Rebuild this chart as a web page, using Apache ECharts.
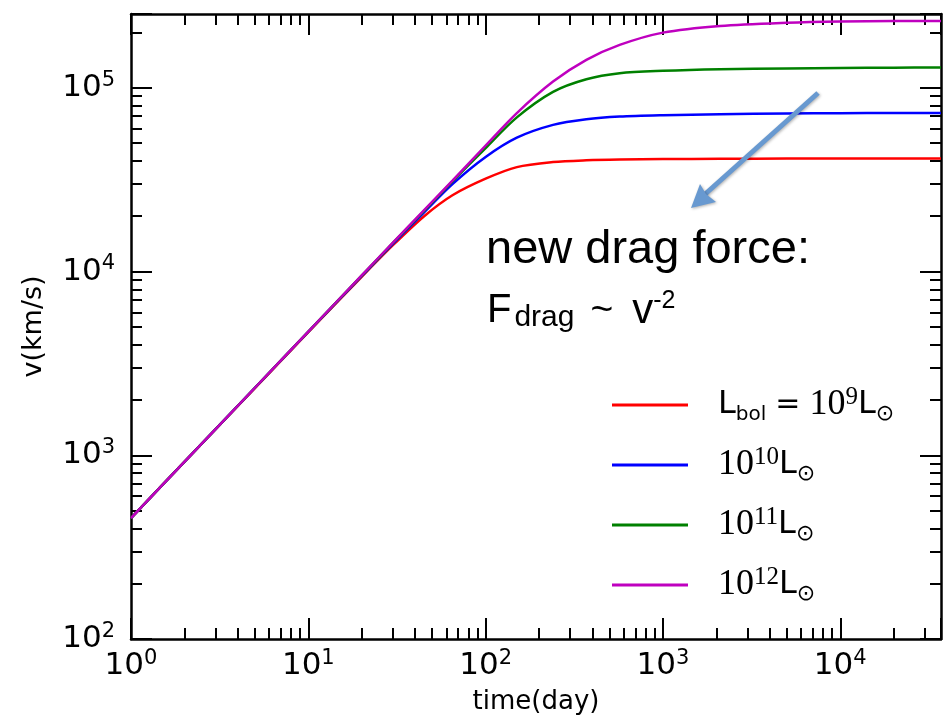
<!DOCTYPE html>
<html>
<head>
<meta charset="utf-8">
<script src="https://cdn.jsdelivr.net/npm/echarts@6/dist/echarts.min.js"></script>
<style>
  html, body { margin: 0; padding: 0; background: #fff; }
  #chart { width: 946px; height: 725px; }
</style>
</head>
<body>
<div id="chart"></div>
<script>
// Time since launch (days)
const TIME = [1, 2, 5, 10, 20, 30, 45, 65, 100, 150, 240, 370, 570, 1000, 2100, 5000, 10000, 20000, 37000];

// Velocity (km/s) for each bolometric luminosity
const V_L9  = [455, 920, 2320, 4680, 9350, 13900, 20000, 26000, 32000, 37000, 39400, 40300, 40700, 40900, 41050, 41150, 41200, 41200, 41200];
const V_L10 = [455, 920, 2330, 4700, 9450, 14150, 21000, 29900, 42000, 53500, 62800, 67400, 69700, 70900, 71800, 72400, 72700, 72800, 72800];
const V_L11 = [455, 920, 2330, 4710, 9500, 14300, 21400, 30900, 47000, 69000, 95000, 111300, 120000, 123600, 126100, 127400, 128200, 128600, 128800];
const V_L12 = [455, 920, 2330, 4710, 9520, 14370, 21600, 31200, 48500, 72800, 108000, 141800, 171000, 199500, 217000, 226000, 229500, 230500, 231000];

const SERIES_NAMES = ['L9', 'L10', 'L11', 'L12'];
const SERIES_VALUES = [V_L9, V_L10, V_L11, V_L12];
const SERIES_COLORS = ['#ff0000', '#0000ff', '#008000', '#bf00bf'];
const LEGEND_TEXT = {
  L9:  '{L|L}{bol|bol}{eq|=}{n|10}{sup|9}{L|L}{sun|\u2299}',
  L10: '{n|10}{sup|10}{L|L}{sun|\u2299}',
  L11: '{n|10}{sup|11}{L|L}{sun|\u2299}',
  L12: '{n|10}{sup|12}{L|L}{sun|\u2299}'
};

const X_MIN = 1, X_MAX = 37000;
const Y_MIN = 100, Y_MAX = 252000;

const SANS = 'DejaVu Sans';
const ARROW_COLOR = '#6899d0';

// Minor tick positions (as exponents): log10 of 2..9 x 10^k inside the range
function minorExponents(lo, hi) {
  const out = [];
  for (let k = Math.floor(Math.log10(lo)); k <= Math.ceil(Math.log10(hi)); k++) {
    for (let m = 2; m <= 9; m++) {
      const v = m * Math.pow(10, k);
      if (v > lo && v < hi) out.push(Math.log10(v));
    }
  }
  return out;
}
const X_MINOR = minorExponents(X_MIN, X_MAX);
const Y_MINOR = minorExponents(Y_MIN, Y_MAX);

function powLabel(v) {
  const e = Math.log10(v);
  const r = Math.round(e);
  if (Math.abs(e - r) > 1e-6) return '';
  return '{b|10}{s|' + r + '}';
}

const tickRich = {
  b: { fontFamily: SANS, fontSize: 31, lineHeight: 36, color: '#000' },
  s: { fontFamily: SANS, fontSize: 21, lineHeight: 11, verticalAlign: 'top', color: '#000' }
};

function logAxis(min, max, position, withLabels, extra) {
  return Object.assign({
    type: 'log', logBase: 10, min: min, max: max, position: position,
    axisLine: { show: true, onZero: false, lineStyle: { color: '#000', width: 2.5 } },
    axisTick: { inside: true, length: 21, lineStyle: { color: '#000', width: 2 } },
    axisLabel: withLabels
      ? { formatter: powLabel, rich: tickRich, margin: 9, hideOverlap: false }
      : { show: false },
    splitLine: { show: false },
    minorTick: { show: false }
  }, extra || {});
}

// Linear axis over the exponent range, carrying only the short minor ticks
function minorAxis(min, max, position, values) {
  return {
    type: 'value', min: Math.log10(min), max: Math.log10(max), position: position, offset: 0,
    axisLine: { show: false, onZero: false },
    axisTick: { show: true, inside: true, length: 11, customValues: values, lineStyle: { color: '#000', width: 2 } },
    axisLabel: { show: false },
    splitLine: { show: false }
  };
}

const chart = echarts.init(document.getElementById('chart'), null, { renderer: 'canvas' });

chart.setOption({
  animation: false,
  backgroundColor: '#fff',
  grid: { left: 131, right: 5, top: 14, bottom: 86, containLabel: false },
  xAxis: [
    logAxis(X_MIN, X_MAX, 'bottom', true, {
      name: 'time(day)', nameLocation: 'middle', nameGap: 50,
      nameTextStyle: { fontFamily: SANS, fontSize: 26, color: '#000' }
    }),
    logAxis(X_MIN, X_MAX, 'top', false),
    minorAxis(X_MIN, X_MAX, 'bottom', X_MINOR),
    minorAxis(X_MIN, X_MAX, 'top', X_MINOR)
  ],
  yAxis: [
    logAxis(Y_MIN, Y_MAX, 'left', true, {
      name: 'v(km/s)', nameLocation: 'middle', nameGap: 84,
      nameTextStyle: { fontFamily: SANS, fontSize: 27, color: '#000' },
      axisLabel: { formatter: powLabel, rich: tickRich, margin: 16, hideOverlap: false }
    }),
    logAxis(Y_MIN, Y_MAX, 'right', false),
    minorAxis(Y_MIN, Y_MAX, 'left', Y_MINOR),
    minorAxis(Y_MIN, Y_MAX, 'right', Y_MINOR)
  ],
  legend: {
    orient: 'vertical', left: 612, top: 385, padding: 0,
    itemWidth: 76, itemHeight: 3, itemGap: 20, icon: 'rect',
    data: SERIES_NAMES,
    formatter: function (name) { return LEGEND_TEXT[name]; },
    textStyle: {
      padding: [0, 0, 0, 25],
      rich: {
        L:   { fontFamily: SANS, fontSize: 32, lineHeight: 40, color: '#000' },
        n:   { fontFamily: 'Liberation Serif', fontSize: 36, lineHeight: 40, color: '#000' },
        eq:  { fontFamily: SANS, fontSize: 30, lineHeight: 40, color: '#000', padding: [0, 9, 0, 9] },
        sup: { fontFamily: 'Liberation Serif', fontSize: 25, lineHeight: 18, verticalAlign: 'top', color: '#000' },
        bol: { fontFamily: SANS, fontSize: 20, lineHeight: 20, verticalAlign: 'bottom', color: '#000' },
        sun: { fontFamily: SANS, fontSize: 22, lineHeight: 13, verticalAlign: 'bottom', color: '#000' }
      }
    }
  },
  series: SERIES_NAMES.map(function (name, i) {
    return {
      name: name, type: 'line',
      xAxisIndex: 0, yAxisIndex: 0,
      data: TIME.map(function (t, j) { return [t, SERIES_VALUES[i][j]]; }),
      showSymbol: false, symbol: 'none',
      smooth: 0.3,
      lineStyle: { color: SERIES_COLORS[i], width: 2.5 },
      itemStyle: { color: SERIES_COLORS[i] },
      z: 2 + i, silent: true
    };
  }),
  graphic: { elements: [
    // Arrow pointing at the saturated curves
    {
      type: 'line', z: 100, silent: true,
      shape: { x1: 818, y1: 93, x2: 703, y2: 196 },
      style: { stroke: ARROW_COLOR, lineWidth: 5, shadowBlur: 3, shadowColor: 'rgba(0,0,0,0.3)', shadowOffsetX: 1, shadowOffsetY: 1 }
    },
    {
      type: 'polygon', z: 100, silent: true,
      shape: { points: [[691, 208], [700, 184], [706, 194], [716, 202]] },
      style: { fill: ARROW_COLOR, shadowBlur: 3, shadowColor: 'rgba(0,0,0,0.3)', shadowOffsetX: 1, shadowOffsetY: 1 }
    },
    {
      type: 'text', z: 100, silent: true,
      style: { x: 486, y: 250, text: 'new drag force:', fontFamily: 'Liberation Sans', fontSize: 47, fill: '#000', verticalAlign: 'middle' }
    },
    {
      type: 'text', z: 100, silent: true,
      style: {
        x: 487, y: 289, verticalAlign: 'top',
        text: '{F|F}{d|drag}{t|~}{v|v}{p|-2}',
        rich: {
          F: { fontFamily: 'Liberation Sans', fontSize: 40, lineHeight: 44, fill: '#000', padding: [0, 3, 0, 0] },
          d: { fontFamily: 'Liberation Sans', fontSize: 30, lineHeight: 14, verticalAlign: 'bottom', fill: '#000' },
          t: { fontFamily: 'Liberation Sans', fontSize: 39, lineHeight: 44, fill: '#000', padding: [0, 19, 0, 16] },
          v: { fontFamily: 'Liberation Sans', fontSize: 42, lineHeight: 44, fill: '#000' },
          p: { fontFamily: 'Liberation Sans', fontSize: 25, lineHeight: 34, verticalAlign: 'top', fill: '#000' }
        }
      }
    }
  ] }
});
</script>
</body>
</html>
